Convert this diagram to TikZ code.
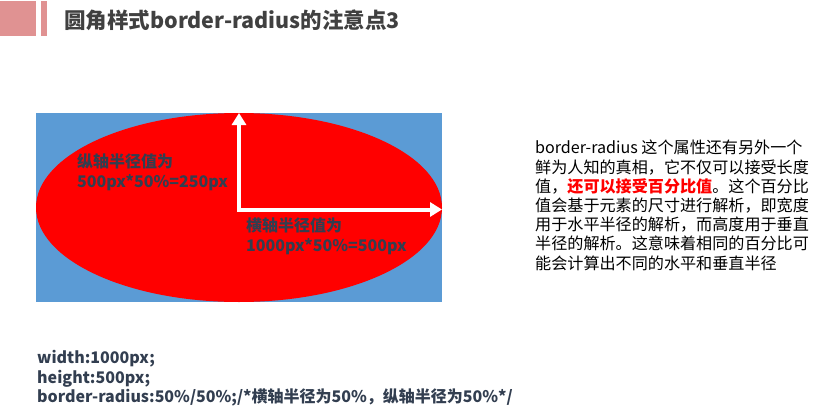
\documentclass[tikz,border=0pt]{standalone}
\usepackage{fontspec}
\setmainfont{Noto Sans CJK SC}
\usetikzlibrary{arrows.meta}
\definecolor{titlepink}{RGB}{224,146,146}
\definecolor{boxblue}{RGB}{91,155,213}
\definecolor{titlegray}{RGB}{64,64,64}
\definecolor{labelslate}{RGB}{50,62,80}
\tikzset{
 radiusarrow/.style={draw=white,line width=4pt,-{Triangle[length=12pt,width=14pt]}},
 labeltext/.style={anchor=north west,inner sep=0pt,align=left,text=labelslate,font=\fontsize{16}{20}\selectfont\bfseries}
}

\begin{document}
\begin{tikzpicture}[x=1pt,y=-1pt]
 \useasboundingbox (0,0) rectangle (816,412);
 % header
 \fill[titlepink] (0,1) rectangle (36,36);
 \fill[titlepink] (41,1) rectangle (47,36);
 \node[anchor=west,inner sep=0pt,text=titlegray,font=\fontsize{21.5}{24}\selectfont\bfseries] (title) at (64,20) {圆角样式border-radius的注意点3};
 % box with the ellipse
 \fill[boxblue] (36,113) rectangle (442,302);
 \fill[red] (239,207.5) ellipse (203 and 94.5);
 \coordinate (center) at (239,209.5);
 \coordinate (top) at (239,113);
 \coordinate (right) at (442,209.5);
 \draw[radiusarrow] (center) -- (top);
 \draw[radiusarrow] ([xshift=-2pt]center) -- (right);
 \node[labeltext] (vlabel) at (77,154) {纵轴半径值为\\500px*50\%=250px};
 \node[labeltext] (hlabel) at (246,218) {横轴半径值为\\1000px*50\%=500px};
 % explanation
 \node[anchor=north west,inner sep=0pt,align=left,font=\fontsize{16.1}{19.2}\selectfont] (note) at (535,140)
  {border-radius 这个属性还有另外一个\\
   鲜为人知的真相，它不仅可以接受长度\\
   值，{\color{red}\bfseries 还可以接受百分比值}。这个百分比\\
   值会基于元素的尺寸进行解析，即宽度\\
   用于水平半径的解析，而高度用于垂直\\
   半径的解析。这意味着相同的百分比可\\
   能会计算出不同的水平和垂直半径};
 % code
 \node[labeltext,font=\fontsize{16}{19.5}\selectfont\bfseries] (code) at (37,350)
  {width:1000px;\\
   height:500px;\\
   border-radius:50\%/50\%;/*横轴半径为50\%，纵轴半径为50\%*/};
\end{tikzpicture}
\end{document}
